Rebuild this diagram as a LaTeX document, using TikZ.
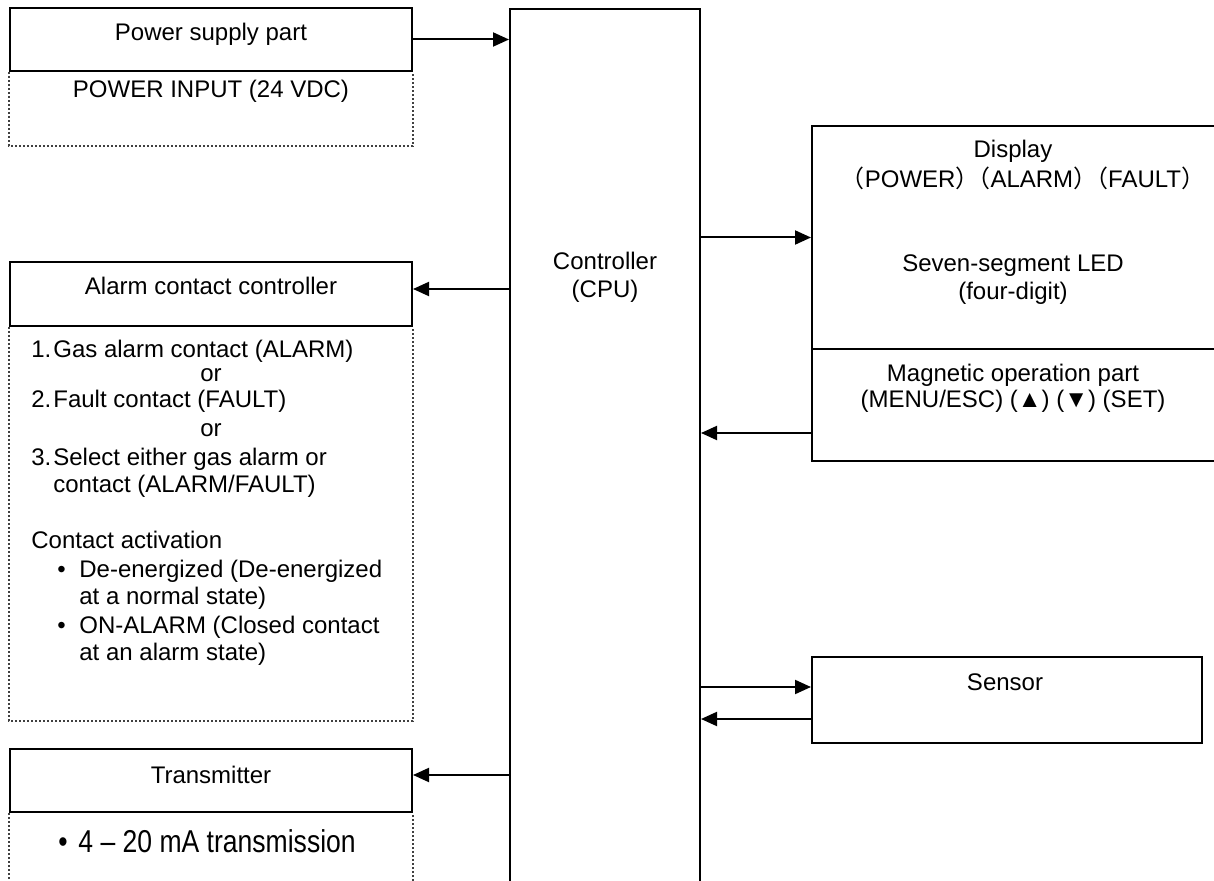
\documentclass[tikz,border=0pt]{standalone}
\usepackage{fontspec}
\setmainfont{Liberation Sans}
\newfontfamily\narrowsans[FakeStretch=0.84]{Liberation Sans}
\newfontfamily\cjkparen{Noto Sans CJK JP}
\usetikzlibrary{arrows.meta}
\tikzset{
  >={Triangle[length=8pt,width=7pt]},
  blockbox/.style={rectangle,draw,line width=1pt},
  notebox/.style={draw=black!75,line width=1pt,densely dotted},
  txt/.style={inner sep=0pt,anchor=base,font=\fontsize{12}{14}\selectfont},
  txtleft/.style={txt,anchor=base west},
  flow/.style={->,line width=1pt}
}
\newcommand{\fwl}{{\cjkparen （}}
\newcommand{\fwr}{{\cjkparen ）}}

\begin{document}
\begin{tikzpicture}[x=0.5pt,y=-0.5pt]
    \useasboundingbox (0,0) rectangle (1214,881);
    \clip (0,0) rectangle (1214,881);

    % controller in the middle
    \node (cpu) at (605,450) [blockbox,minimum width=95pt,minimum height=441pt] {};
    \node (cpuname) at (605,270) [txt] {Controller};
    \node (cpuname2) at (605,298) [txt] {(CPU)};

    % power supply
    \node (power) at (211,39.5) [blockbox,minimum width=201pt,minimum height=31.5pt] {};
    \node (powername) at (211,41) [txt] {Power supply part};
    \node (powerin) at (211,98) [txt] {POWER INPUT (24 VDC)};
    \draw[notebox] (power.south west) -- ++(0,74) -| (power.south east);

    % alarm contacts
    \node (alarm) at (211,294) [blockbox,minimum width=201pt,minimum height=32pt] {};
    \node (alarmname) at (211,295) [txt] {Alarm contact controller};
    \draw[notebox] (alarm.south west) -- ++(0,394) -| (alarm.south east);
    \node (alarm1) at (31,358) [txtleft] {\makebox[11pt][l]{1.}Gas alarm contact (ALARM)};
    \node (alarmor1) at (211,382) [txt] {or};
    \node (alarm2) at (31,408) [txtleft] {\makebox[11pt][l]{2.}Fault contact (FAULT)};
    \node (alarmor2) at (211,437) [txt] {or};
    \node (alarm3) at (31,466) [txtleft] {\makebox[11pt][l]{3.}Select either gas alarm or};
    \node (alarm3b) at (53,493) [txtleft] {contact (ALARM/FAULT)};
    \node (activation) at (31,548) [txtleft] {Contact activation};
    \node (deenergized) at (57,577) [txtleft] {\makebox[11pt][l]{\textbullet}De-energized (De-energized};
    \node (deenergized2) at (79,604) [txtleft] {at a normal state)};
    \node (onalarm) at (57,633) [txtleft] {\makebox[11pt][l]{\textbullet}ON-ALARM (Closed contact};
    \node (onalarm2) at (79,660) [txtleft] {at an alarm state)};

    % transmitter
    \node (xmit) at (211,780.5) [blockbox,minimum width=201pt,minimum height=31.5pt] {};
    \node (xmitname) at (211,783) [txt] {Transmitter};
    \draw[notebox] (xmit.south west) -- ++(0,90) -| (xmit.south east);
    \node (xmitout) at (58,852) [txtleft,font=\narrowsans\fontsize{15.8}{18}\selectfont] {\makebox[10pt][l]{\textbullet}4 – 20 mA transmission};

    % right side
    \node (display) at (1016,237.5) [blockbox,minimum width=204pt,minimum height=111.5pt] {};
    \node (displayname) at (1013,158) [txt] {Display};
    \node (lamps) at (1023,188) [txt] {\fwl POWER\fwr\hspace{-6.5pt}\fwl ALARM\fwr\hspace{-6.5pt}\fwl FAULT\fwr};
    \node (led) at (1013,272) [txt] {Seven-segment LED};
    \node (led2) at (1013,300) [txt] {(four-digit)};
    \node (mag) at (1016,405) [blockbox,minimum width=204pt,minimum height=56pt] {};
    \node (magname) at (1013,382) [txt] {Magnetic operation part};
    \node (keys) at (1013,408) [txt] {(MENU/ESC) (▲) (▼) (SET)};
    \node (sensor) at (1007,700) [blockbox,minimum width=195pt,minimum height=43pt] {};
    \node (sensorname) at (1005,690) [txt] {Sensor};

    % signal flow
    \draw[flow] (power.east) -- (power.east -| cpu.west);
    \draw[flow] ([yshift=2.5pt]alarm.east -| cpu.west) -- ([yshift=2.5pt]alarm.east);
    \draw[flow] ([yshift=2.75pt]xmit.east -| cpu.west) -- ([yshift=2.75pt]xmit.east);
    \draw[flow] (display.west -| cpu.east) -- (display.west);
    \draw[flow] ([yshift=-14pt]mag.west) -- ([yshift=-14pt]mag.west -| cpu.east);
    \draw[flow] ([yshift=6.5pt]sensor.west -| cpu.east) -- ([yshift=6.5pt]sensor.west);
    \draw[flow] ([yshift=-9.5pt]sensor.west) -- ([yshift=-9.5pt]sensor.west -| cpu.east);
\end{tikzpicture}
\end{document}
